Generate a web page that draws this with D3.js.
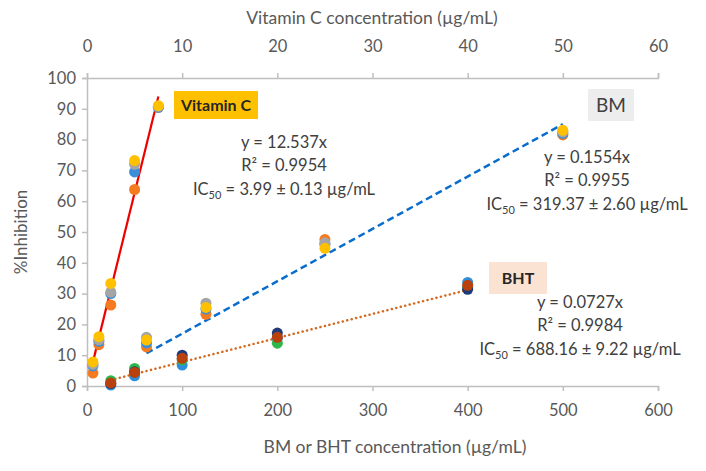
<!DOCTYPE html>
<html>
<head>
<meta charset="utf-8">
<script src="https://cdn.jsdelivr.net/npm/d3@7"></script>
<style>
  body { margin: 0; background: #fff; }
  text { font-family: Lato, "Open Sans", sans-serif; }
</style>
</head>
<body>
<div id="chart"></div>
<script>
(function () {

  // Data
  const vitcConc = [0.625, 1.25, 2.5, 5, 7.5]
  const vitcBlue = [6.5, 14.5, 30, 69.5, 90.5]
  const vitcGray = [7, 15, 30.5, 72, 90.8]
  const vitcOrange = [4.2, 13.4, 26.3, 63.8, 90.5]
  const vitcYellow = [7.8, 16, 33.3, 73.2, 91]

  const bmConc = [62.5, 125, 250, 500]
  const bmBlue = [14, 25, 46, 82]
  const bmGray = [15.8, 26.9, 46.5, 82.5]
  const bmOrange = [12.7, 23.3, 47.6, 81.5]
  const bmYellow = [14.9, 25.5, 44.7, 83]

  const bhtConc = [25, 50, 100, 200, 400]
  const bhtBlue = [0.3, 3.3, 6.8, 15.5, 33.6]
  const bhtNavy = [0.8, 4.6, 10, 17.2, 31.4]
  const bhtGreen = [1.7, 5.7, 8.5, 13.9, 32]
  const bhtBrown = [1, 4.4, 9, 15.8, 32.7]

  // trendline slopes as drawn
  const vitcSlope = 12.537
  const bmSlope = 0.17
  const bhtSlope = 0.078

  const xTicks = [0, 100, 200, 300, 400, 500, 600]
  const xTopTicks = [0, 10, 20, 30, 40, 50, 60]
  const yTicks = [0, 10, 20, 30, 40, 50, 60, 70, 80, 90, 100]

  const W = 706, H = 471
  const margin = { top: 78, right: 48, bottom: 85, left: 87 }
  const width = W - margin.left - margin.right
  const height = H - margin.top - margin.bottom

  const svg = d3.select("#chart").append("svg")
      .attr("width", W)
      .attr("height", H)
  const g = svg.append("g")
      .attr("transform", "translate(" + margin.left + "," + margin.top + ")")

  const x = d3.scaleLinear().domain([0, 600]).range([0, width])
  const xTop = d3.scaleLinear().domain([0, 60]).range([0, width])
  const y = d3.scaleLinear().domain([0, 100]).range([height, 0])

  const axisColor = "#bfbfbf"
  const textColor = "#595959"

  function styleAxis(sel) {
    sel.select(".domain").attr("stroke", axisColor).attr("stroke-width", 1.5)
    sel.selectAll(".tick line").attr("stroke", axisColor).attr("stroke-width", 1.5)
    sel.selectAll(".tick text").attr("fill", textColor).style("font-size", "16.5px")
  }

  g.append("g")
    .attr("transform", "translate(0," + height + ")")
    .call(d3.axisBottom(x).tickValues(xTicks).tickSize(5).tickPadding(13).tickSizeOuter(5))
    .call(styleAxis)

  g.append("g")
    .call(d3.axisTop(xTop).tickValues(xTopTicks).tickSize(5).tickPadding(21).tickSizeOuter(5))
    .call(styleAxis)

  g.append("g")
    .call(d3.axisLeft(y).tickValues(yTicks).tickSize(5).tickPadding(6).tickSizeOuter(5))
    .call(styleAxis)

  // Axis titles
  svg.append("text")
    .attr("x", 372).attr("y", 24)
    .attr("text-anchor", "middle")
    .attr("fill", textColor).style("font-size", "17.5px")
    .text("Vitamin C concentration (µg/mL)")

  svg.append("text")
    .attr("x", 395).attr("y", 453)
    .attr("text-anchor", "middle")
    .attr("fill", textColor).style("font-size", "17.5px")
    .text("BM or BHT concentration (µg/mL)")

  svg.append("text")
    .attr("transform", "translate(27,232) rotate(-90)")
    .attr("text-anchor", "middle")
    .attr("fill", textColor).style("font-size", "17px")
    .text("%Inhibition")

  // Trendlines
  const line = d3.line().x(d => d[0]).y(d => d[1])

  g.append("path")
    .attr("d", line([vitcConc[0], vitcConc[vitcConc.length - 1]].map(c => [xTop(c), y(c * vitcSlope)])))
    .attr("stroke", "#ee0000").attr("stroke-width", 2.2).attr("fill", "none")

  g.append("path")
    .attr("d", line([bmConc[0], bmConc[bmConc.length - 1]].map(c => [x(c), y(c * bmSlope)])))
    .attr("stroke", "#0a6ccc").attr("stroke-width", 2.5).attr("fill", "none")
    .attr("stroke-dasharray", "7,4")

  g.append("path")
    .attr("d", line([bhtConc[0], bhtConc[bhtConc.length - 1]].map(c => [x(c), y(c * bhtSlope)])))
    .attr("stroke", "#d2691e").attr("stroke-width", 2.5).attr("fill", "none")
    .attr("stroke-linecap", "round")
    .attr("stroke-dasharray", "0.1,4.5")

  // Points
  const r = 5.5
  function drawSeries(conc, vals, scale, color) {
    g.append("g").selectAll("circle")
      .data(conc.map((c, i) => [c, vals[i]]))
      .join("circle")
      .attr("cx", d => scale(d[0]))
      .attr("cy", d => y(d[1]))
      .attr("r", r)
      .attr("fill", color)
  }

  drawSeries(bhtConc, bhtBlue, x, "#2e8fdb")
  drawSeries(bhtConc, bhtGreen, x, "#2fb84a")
  drawSeries(bhtConc, bhtNavy, x, "#1f3a78")
  drawSeries(bhtConc, bhtBrown, x, "#b8410e")

  drawSeries(bmConc, bmOrange, x, "#f47b20")
  drawSeries(bmConc, bmBlue, x, "#3b8fd8")
  drawSeries(bmConc, bmGray, x, "#a5a5a5")
  drawSeries(bmConc, bmYellow, x, "#ffc000")

  drawSeries(vitcConc, vitcOrange, xTop, "#f47b20")
  drawSeries(vitcConc, vitcBlue, xTop, "#3b8fd8")
  drawSeries(vitcConc, vitcGray, xTop, "#a5a5a5")
  drawSeries(vitcConc, vitcYellow, xTop, "#ffc000")

  // Labels
  function labelBox(cx, cy, w, h, fill, label, size, bold) {
    svg.append("rect")
      .attr("x", cx - w / 2).attr("y", cy - h / 2)
      .attr("width", w).attr("height", h)
      .attr("fill", fill)
    svg.append("text")
      .attr("x", cx).attr("y", cy + size * 0.36)
      .attr("text-anchor", "middle")
      .attr("fill", bold ? "#262626" : "#404040")
      .style("font-size", size + "px")
      .style("font-weight", bold ? "bold" : "normal")
      .text(label)
  }

  labelBox(216, 105, 84, 28, "#ffc000", "Vitamin C", 16, true)
  labelBox(611, 105, 46, 32, "#ededed", "BM", 19, false)
  labelBox(518, 278, 58, 32, "#fbe3d4", "BHT", 16, true)

  function equation(cx, cy, eq, r2, ic) {
    const t = svg.append("g").attr("fill", "#404040").style("font-size", "16.5px")
    t.append("text").attr("x", cx).attr("y", cy).attr("text-anchor", "middle").text(eq)
    t.append("text").attr("x", cx).attr("y", cy + 23).attr("text-anchor", "middle").text(r2)
    const ict = t.append("text").attr("x", cx).attr("y", cy + 47).attr("text-anchor", "middle")
    ict.append("tspan").text("IC")
    ict.append("tspan").attr("dy", 4).style("font-size", "11px").text("50")
    ict.append("tspan").attr("dy", -4).text(" = " + ic)
  }

  equation(284, 148, "y = 12.537x", "R² = 0.9954", "3.99 ± 0.13 µg/mL")
  equation(587, 163, "y = 0.1554x", "R² = 0.9955", "319.37 ± 2.60 µg/mL")
  equation(580, 308, "y = 0.0727x", "R² = 0.9984", "688.16 ± 9.22 µg/mL")

})();
</script>
</body>
</html>
